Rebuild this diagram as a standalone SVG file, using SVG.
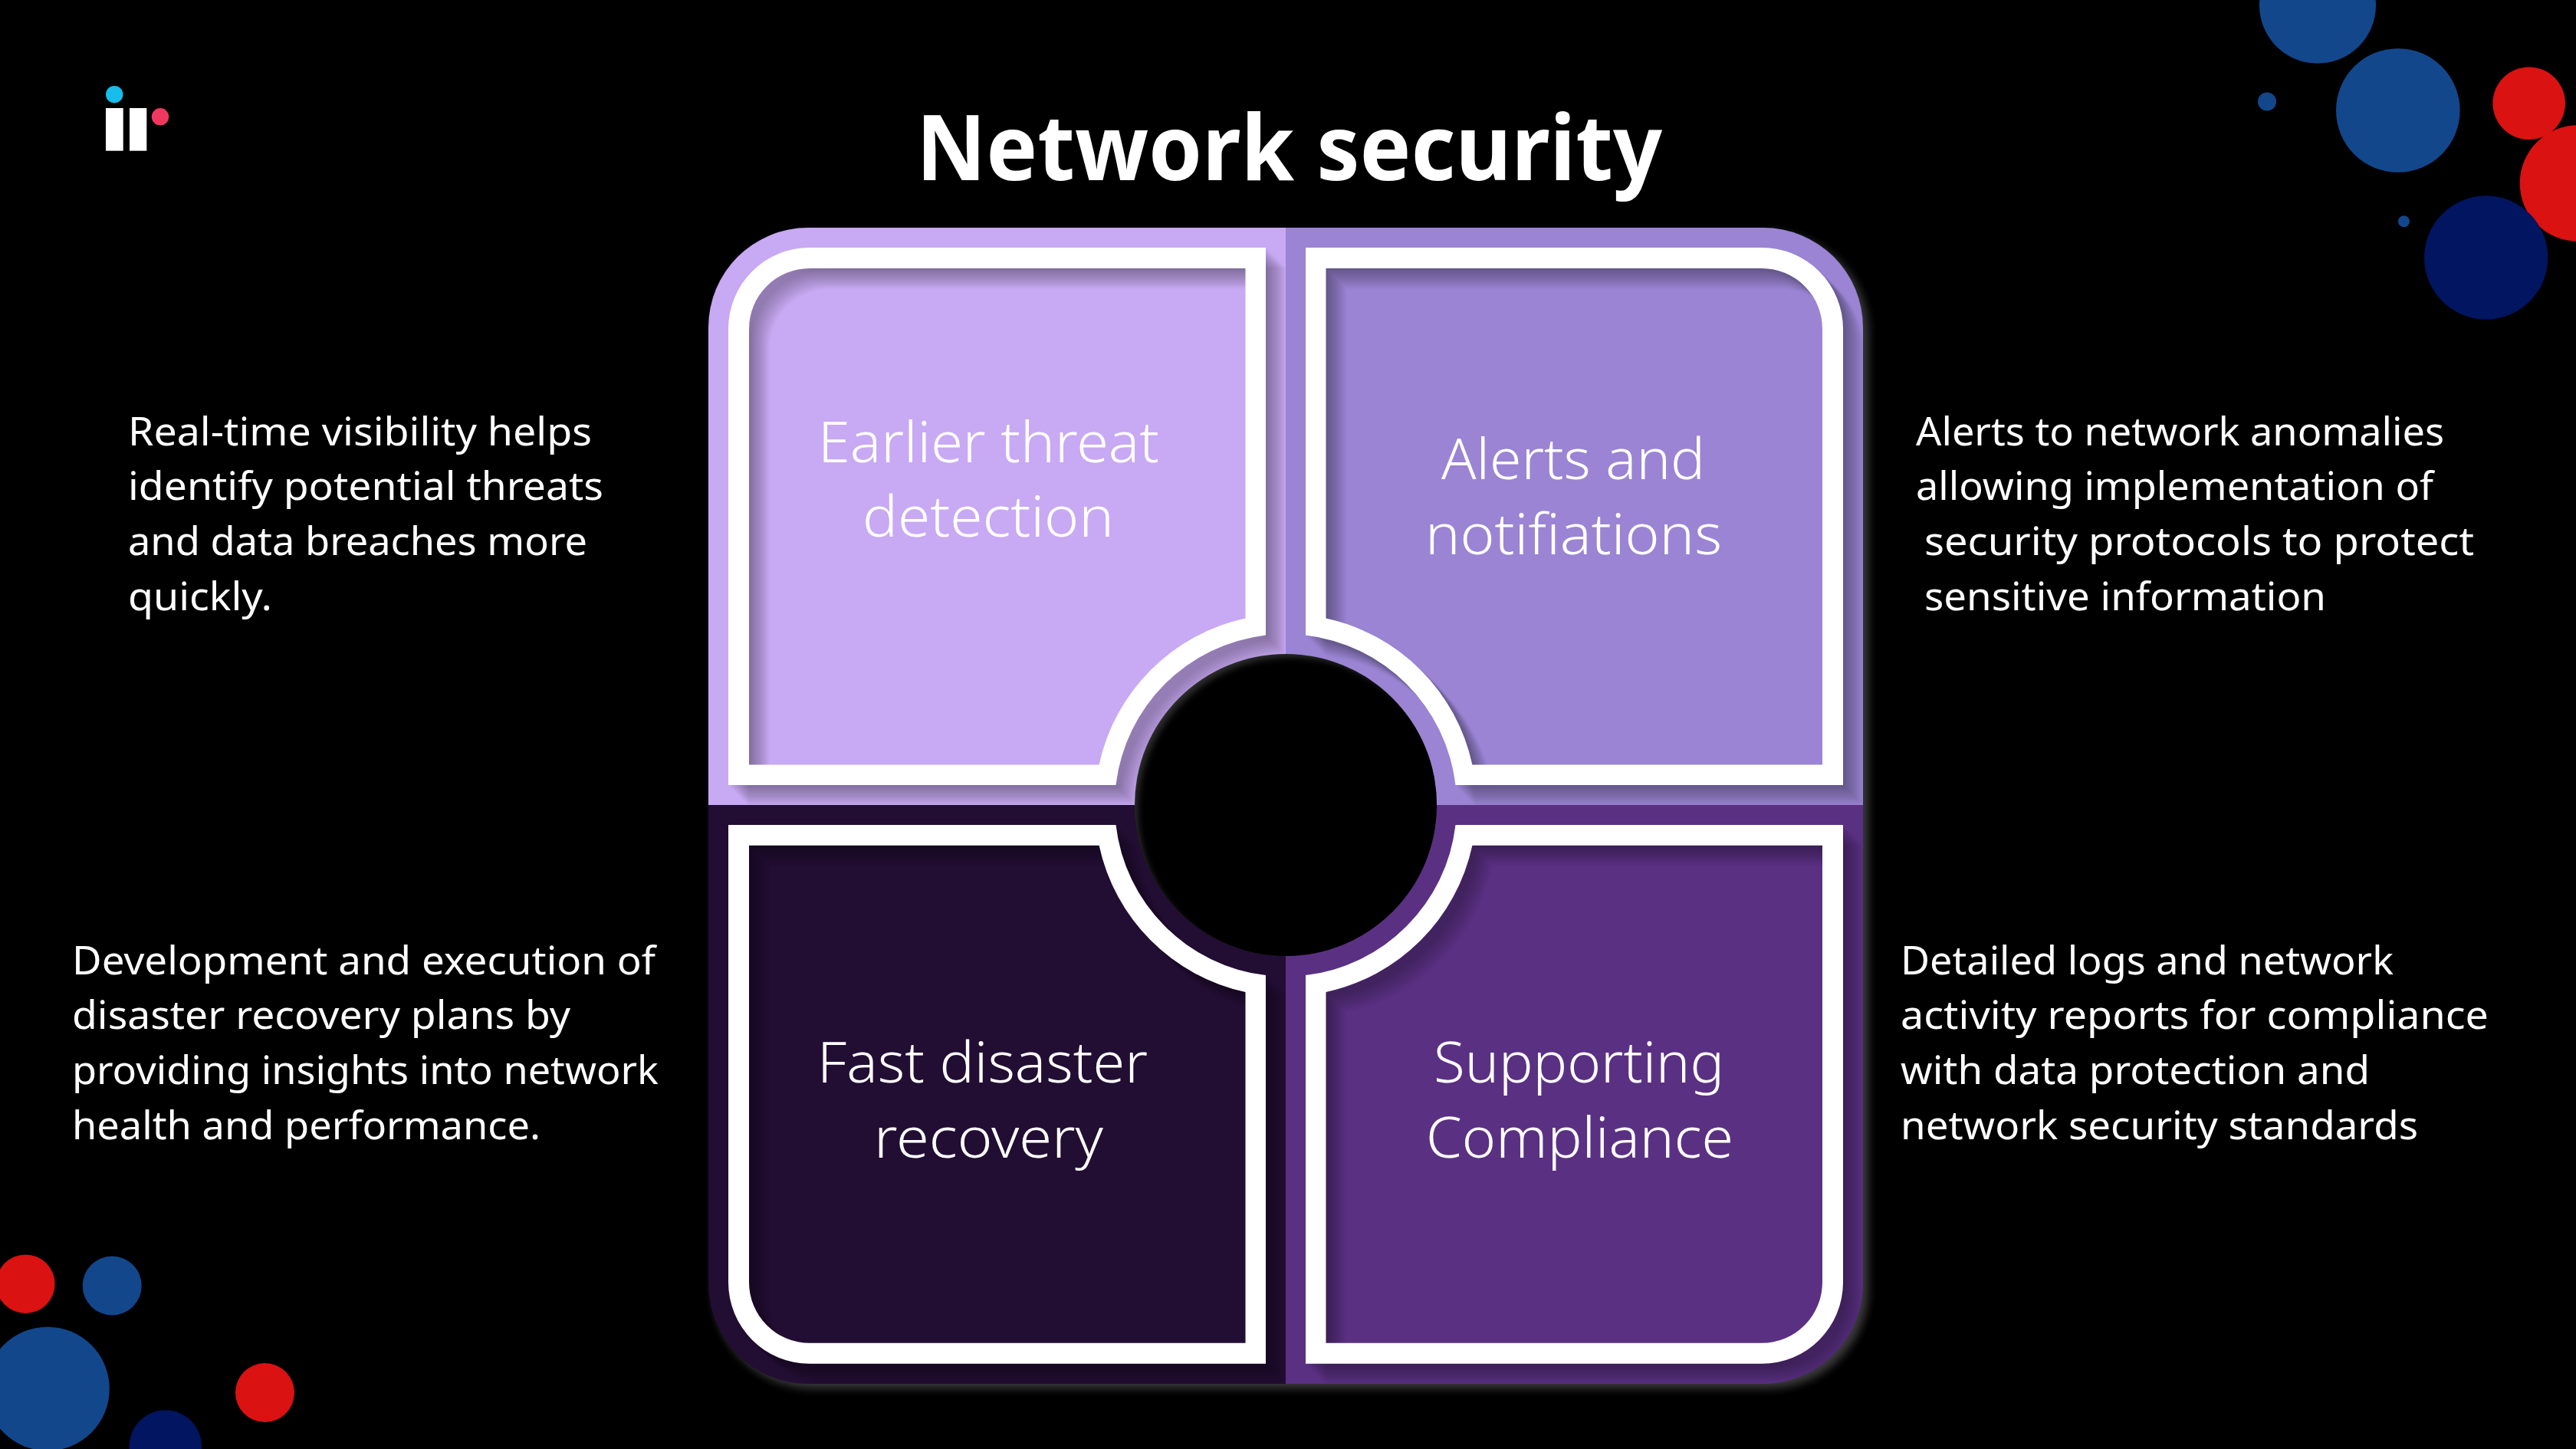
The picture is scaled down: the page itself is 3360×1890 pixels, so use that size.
<svg xmlns="http://www.w3.org/2000/svg" width="3360" height="1890" viewBox="0 0 3360 1890">
<style>
.b{fill:#13478C}.r{fill:#DA1212}.n{fill:#021560}
text{fill:#fff;font-family:"Noto Sans","Open Sans","Liberation Sans",sans-serif}
.t{font-size:118px;font-weight:700}
.d{font-size:51px}
.l{font-size:73px;font-weight:300}
</style>
<defs>
<path id="ring" fill="#fff" fill-rule="evenodd" d="M-26-221.5L-26-727L-621-727A106 106 0 0 0-727-621L-727-26L-221.5-26A223 223 0 0 1-26-221.5ZM-52.5-243.4L-52.5-700L-621-700A79 79 0 0 0-700-621L-700-52.5L-243.4-52.5A249 249 0 0 1-52.5-243.4Z"/>
<path id="quad" d="M0 0L-753 0L-753-623A130 130 0 0 1-623-753L0-753Z"/>
<clipPath id="c1"><use href="#quad"/></clipPath>
<clipPath id="c2"><use href="#quad" transform="scale(-1 1)"/></clipPath>
<clipPath id="c3"><use href="#quad" transform="scale(1 -1.0025)"/></clipPath>
<clipPath id="c4"><use href="#quad" transform="scale(-1 -1.0025)"/></clipPath>
<clipPath id="hub"><circle cx="1677" cy="1050" r="197"/></clipPath>
<filter id="ls" filterUnits="userSpaceOnUse" x="-800" y="-800" width="1600" height="1600" color-interpolation-filters="sRGB">
<feColorMatrix in="SourceAlpha" type="matrix" values="0 0 0 0 0 0 0 0 0 0 0 0 0 0 0 0 0 0 .032 0" result="a0"/>
<feOffset in="a0" dx="2" dy="2" result="a1"/><feOffset in="a1" dx="2" dy="2" result="a2"/><feOffset in="a2" dx="2" dy="2" result="a3"/><feOffset in="a3" dx="2" dy="2" result="a4"/><feOffset in="a4" dx="2" dy="2" result="a5"/><feOffset in="a5" dx="2" dy="2" result="a6"/><feOffset in="a6" dx="2" dy="2" result="a7"/><feOffset in="a7" dx="2" dy="2" result="a8"/><feOffset in="a8" dx="2" dy="2" result="a9"/><feOffset in="a9" dx="2" dy="2" result="a10"/><feOffset in="a10" dx="2" dy="2" result="a11"/><feOffset in="a11" dx="2" dy="2" result="a12"/><feOffset in="a12" dx="2" dy="2" result="a13"/>
<feMerge result="m"><feMergeNode in="a1"/><feMergeNode in="a2"/><feMergeNode in="a3"/><feMergeNode in="a4"/><feMergeNode in="a5"/><feMergeNode in="a6"/><feMergeNode in="a7"/><feMergeNode in="a8"/><feMergeNode in="a9"/><feMergeNode in="a10"/><feMergeNode in="a11"/><feMergeNode in="a12"/><feMergeNode in="a13"/></feMerge>
<feGaussianBlur in="m" stdDeviation="1" result="s"/>
<feMerge><feMergeNode in="s"/><feMergeNode in="SourceGraphic"/></feMerge>
</filter>
<filter id="soft" x="-10%" y="-10%" width="120%" height="120%"><feGaussianBlur stdDeviation="6"/></filter>
<filter id="soft2" x="-10%" y="-10%" width="120%" height="120%"><feGaussianBlur stdDeviation="4"/></filter>
</defs>
<rect width="3360" height="1890" fill="#000"/>
<g id="logo">
<circle cx="149.2" cy="123.2" r="11.2" fill="#17BEEB"/>
<rect x="138" y="141" width="22.7" height="55.7" fill="#fff"/>
<rect x="169" y="141" width="22.3" height="55.7" fill="#fff"/>
<circle cx="209" cy="152.3" r="11.2" fill="#EF3860"/>
</g>
<g id="dots-top-right">
<circle class="b" cx="3023" cy="6.7" r="76"/>
<circle class="b" cx="3127.8" cy="144" r="80.8"/>
<circle class="b" cx="2957" cy="132.5" r="12"/>
<circle class="b" cx="3135.5" cy="288.7" r="7.5"/>
<circle class="r" cx="3298.7" cy="134.7" r="47.3"/>
<circle class="r" cx="3362.5" cy="239" r="75.8"/>
<circle class="n" cx="3242.7" cy="336" r="80.7"/>
</g>
<g id="dots-bottom-left">
<circle class="r" cx="33.3" cy="1674.7" r="38.3"/>
<circle class="b" cx="146.2" cy="1677" r="38.5"/>
<circle class="b" cx="62" cy="1811.5" r="80.8"/>
<circle class="n" cx="215.8" cy="1886.5" r="47.2"/>
<circle class="r" cx="345.5" cy="1816.5" r="38.5"/>
</g>
<text id="title" class="t" x="1195" y="235" textLength="973" lengthAdjust="spacingAndGlyphs">Network security</text>
<rect id="panel-shadow" x="930" y="303" width="1507" height="1508" rx="130" fill="#3a3a3a" filter="url(#soft)"/>
<g id="node-earlier" transform="translate(1677 1050)">
<use href="#quad" fill="#C8A9F3"/>
<g clip-path="url(#c1)"><g filter="url(#ls)"><use href="#ring"/></g></g>
</g>
<g id="node-alerts" transform="translate(1677 1050)">
<use href="#quad" transform="scale(-1 1)" fill="#9A84D3"/>
<g clip-path="url(#c2)"><g filter="url(#ls)"><use href="#ring" transform="scale(-1 1)"/></g></g>
</g>
<g id="node-disaster" transform="translate(1677 1050)">
<use href="#quad" transform="scale(1 -1.0025)" fill="#220D33"/>
<g clip-path="url(#c3)"><g filter="url(#ls)"><use href="#ring" transform="scale(1 -1.0025)"/></g></g>
</g>
<g id="node-compliance" transform="translate(1677 1050)">
<use href="#quad" transform="scale(-1 -1.0025)" fill="#5A3083"/>
<g clip-path="url(#c4)"><g filter="url(#ls)"><use href="#ring" transform="scale(-1 -1.0025)"/></g></g>
</g>
<g id="hub-circle">
<circle cx="1677" cy="1050" r="197" fill="#2e2e2e"/>
<g clip-path="url(#hub)"><circle cx="1684" cy="1057" r="200" fill="#000" filter="url(#soft2)"/></g>
</g>
<g id="labels">
<text class="l" x="1067" y="603" textLength="445" lengthAdjust="spacingAndGlyphs">Earlier threat</text>
<text class="l" x="1125" y="700" textLength="328" lengthAdjust="spacingAndGlyphs">detection</text>
<text class="l" x="1880" y="625" textLength="344" lengthAdjust="spacingAndGlyphs">Alerts and</text>
<text class="l" x="1859" y="722.5" textLength="387" lengthAdjust="spacingAndGlyphs">notifiations</text>
<text class="l" x="1066" y="1412" textLength="431" lengthAdjust="spacingAndGlyphs">Fast disaster</text>
<text class="l" x="1140" y="1509.5" textLength="299" lengthAdjust="spacingAndGlyphs">recovery</text>
<text class="l" x="1870" y="1412" textLength="379" lengthAdjust="spacingAndGlyphs">Supporting</text>
<text class="l" x="1860" y="1509.5" textLength="401" lengthAdjust="spacingAndGlyphs">Compliance</text>
</g>
<g id="desc-earlier">
<text class="d" x="167" y="581" textLength="605" lengthAdjust="spacingAndGlyphs">Real-time visibility helps</text>
<text class="d" x="167" y="652" textLength="620" lengthAdjust="spacingAndGlyphs">identify potential threats</text>
<text class="d" x="167" y="724" textLength="599" lengthAdjust="spacingAndGlyphs">and data breaches more</text>
<text class="d" x="167" y="795.5" textLength="188" lengthAdjust="spacingAndGlyphs">quickly.</text>
</g>
<g id="desc-alerts">
<text class="d" x="2499" y="581" textLength="689" lengthAdjust="spacingAndGlyphs">Alerts to network anomalies</text>
<text class="d" x="2499" y="652" textLength="675" lengthAdjust="spacingAndGlyphs">allowing implementation of</text>
<text class="d" x="2510" y="724" textLength="717" lengthAdjust="spacingAndGlyphs">security protocols to protect</text>
<text class="d" x="2510" y="795.5" textLength="524" lengthAdjust="spacingAndGlyphs">sensitive information</text>
</g>
<g id="desc-disaster">
<text class="d" x="94" y="1271" textLength="761" lengthAdjust="spacingAndGlyphs">Development and execution of</text>
<text class="d" x="94" y="1342" textLength="650" lengthAdjust="spacingAndGlyphs">disaster recovery plans by</text>
<text class="d" x="94" y="1414" textLength="765" lengthAdjust="spacingAndGlyphs">providing insights into network</text>
<text class="d" x="94" y="1485.5" textLength="611" lengthAdjust="spacingAndGlyphs">health and performance.</text>
</g>
<g id="desc-compliance">
<text class="d" x="2479" y="1271" textLength="643" lengthAdjust="spacingAndGlyphs">Detailed logs and network</text>
<text class="d" x="2479" y="1342" textLength="767" lengthAdjust="spacingAndGlyphs">activity reports for compliance</text>
<text class="d" x="2479" y="1414" textLength="612" lengthAdjust="spacingAndGlyphs">with data protection and</text>
<text class="d" x="2479" y="1485.5" textLength="675" lengthAdjust="spacingAndGlyphs">network security standards</text>
</g>
</svg>
